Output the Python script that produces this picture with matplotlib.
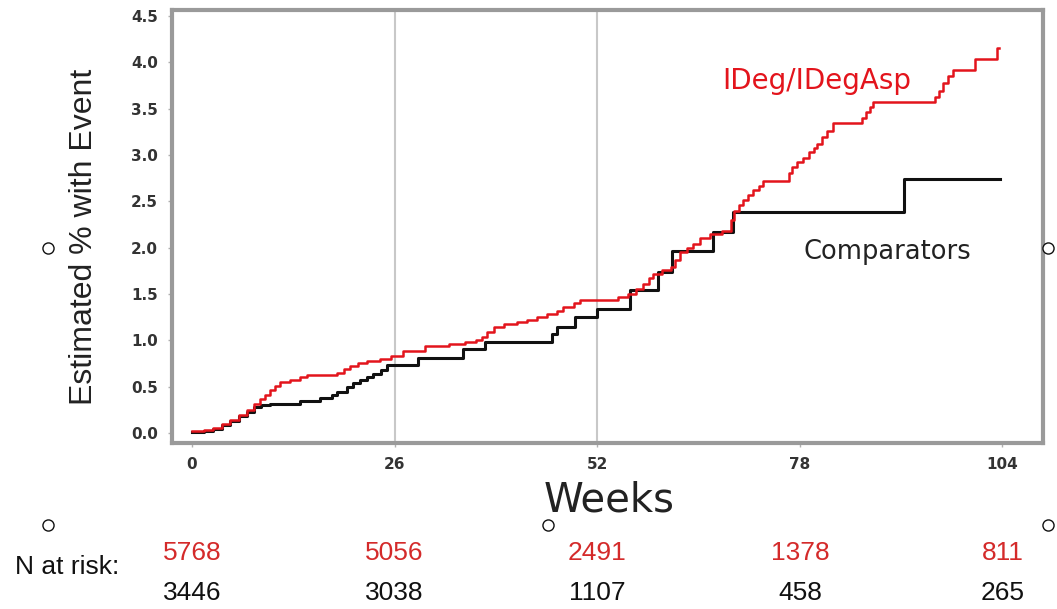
import matplotlib
matplotlib.use("Agg")
import matplotlib.pyplot as plt
import matplotlib.transforms as mtransforms
from matplotlib.lines import Line2D

# ---- data -------------------------------------------------------------
# IDeg/IDegAsp (red) cumulative %, step changes at these weeks
ideg_weeks = [0.0, 1.5, 2.7, 3.8, 4.9, 6.0, 7.0, 8.0, 8.7, 9.4,
              10.0, 10.7, 11.3, 12.6, 13.8, 14.7, 18.6, 19.5, 20.3, 21.3,
              22.4, 24.1, 25.5, 27.1, 29.9, 33.0, 35.0, 36.5, 37.2, 37.8,
              38.7, 40.0, 41.7, 43.0, 44.3, 45.5, 46.8, 47.6, 49.0, 49.8,
              54.7, 56.0, 57.0, 57.9, 58.6, 59.2, 60.3, 61.4, 62.0, 62.6,
              63.5, 64.3, 65.2, 66.5, 68.0, 69.2, 69.5, 70.2, 70.7, 71.4,
              72.0, 72.7, 73.3, 76.6, 77.0, 77.6, 78.4, 79.2, 79.8, 80.2,
              80.9, 81.5, 82.2, 86.0, 86.5, 87.0, 87.4, 95.4, 95.8, 96.4,
              97.0, 97.6, 100.5, 103.3]
ideg_pct = [0.02, 0.03, 0.05, 0.09, 0.14, 0.19, 0.25, 0.31, 0.36, 0.41,
            0.46, 0.51, 0.55, 0.57, 0.60, 0.62, 0.65, 0.69, 0.72, 0.75,
            0.77, 0.80, 0.83, 0.88, 0.94, 0.96, 0.98, 1.00, 1.03, 1.09,
            1.14, 1.17, 1.20, 1.22, 1.25, 1.28, 1.31, 1.36, 1.40, 1.43,
            1.47, 1.50, 1.55, 1.61, 1.67, 1.72, 1.76, 1.79, 1.87, 1.95,
            2.00, 2.04, 2.10, 2.15, 2.18, 2.30, 2.40, 2.46, 2.51, 2.57,
            2.62, 2.67, 2.72, 2.80, 2.87, 2.92, 2.97, 3.03, 3.07, 3.12,
            3.19, 3.26, 3.34, 3.40, 3.46, 3.52, 3.57, 3.63, 3.69, 3.78,
            3.85, 3.92, 4.04, 4.16]
ideg_end = 103.6

# Comparators (black)
comp_weeks = [0.0, 1.5, 2.7, 3.8, 4.9, 6.0, 7.0, 8.0, 8.8, 10.0,
              13.9, 16.4, 18.0, 18.6, 19.9, 20.7, 21.6, 22.4, 23.2, 24.2,
              25.0, 29.0, 34.8, 37.6, 46.2, 46.8, 49.2, 52.0, 56.2, 59.8,
              61.6, 66.8, 69.4, 91.4]
comp_pct = [0.01, 0.02, 0.04, 0.08, 0.13, 0.18, 0.23, 0.28, 0.30, 0.31,
            0.34, 0.38, 0.41, 0.44, 0.50, 0.54, 0.57, 0.60, 0.63, 0.68,
            0.73, 0.81, 0.90, 0.98, 1.07, 1.14, 1.25, 1.34, 1.54, 1.74,
            1.96, 2.17, 2.38, 2.74]
comp_end = 103.7

x_ticks = [0, 26, 52, 78, 104]
y_ticks = [0.0, 0.5, 1.0, 1.5, 2.0, 2.5, 3.0, 3.5, 4.0, 4.5]
grid_weeks = [26, 52]

risk_ideg = ["5768", "5056", "2491", "1378", "811"]
risk_comp = ["3446", "3038", "1107", "458", "265"]

RED = "#e3141c"
BLACK = "#111111"
FRAME = "#9a9a9a"

W, H = 1057, 609
fig = plt.figure(figsize=(W / 100, H / 100), dpi=100)
ax = fig.add_axes([172 / W, 1 - 443 / H, (1043 - 172) / W, (443 - 10) / H])

ax.set_xlim(-2.57, 109.2)
ax.set_ylim(-0.11, 4.565)

for g in grid_weeks:
    ax.axvline(g, color="#c8c8c8", lw=1.5, zorder=1)

ax.step(comp_weeks + [comp_end], comp_pct + [comp_pct[-1]], where="post",
        color=BLACK, lw=2.2, zorder=3)
ax.step(ideg_weeks + [ideg_end], ideg_pct + [ideg_pct[-1]], where="post",
        color=RED, lw=1.8, zorder=4)

for sp in ax.spines.values():
    sp.set_color(FRAME)
    sp.set_linewidth(3)

ax.set_xticks(x_ticks)
ax.set_yticks(y_ticks)
ax.set_yticklabels([f"{v:.1f}" for v in y_ticks])
ax.tick_params(axis="both", length=3, color="#b0b0b0", width=1,
               labelcolor="#333333", labelsize=11)
ax.tick_params(axis="x", pad=7)
ax.tick_params(axis="y", pad=7)
for lab in ax.get_xticklabels() + ax.get_yticklabels():
    lab.set_fontweight("bold")

ax.text(0.632, 0.835, "IDeg/IDegAsp", transform=ax.transAxes, color=RED,
        fontsize=20, ha="left", va="center")
ax.text(0.725, 0.44, "Comparators", transform=ax.transAxes, color="#222222",
        fontsize=18.5, ha="left", va="center")

fig.text(84 / W, 1 - 237 / H, "Estimated % with Event", rotation=90,
         ha="center", va="center", fontsize=23, color="#222222",
         family=["Liberation Sans", "DejaVu Sans"])
fig.text(609 / W, 1 - 500 / H, "Weeks", ha="center", va="center",
         fontsize=29, color="#222222")

# number at risk table under the axis, aligned to week ticks
risk_font = ["Liberation Sans", "DejaVu Sans"]
trans = mtransforms.blended_transform_factory(ax.transData, fig.transFigure)
fig.text(67 / W, 1 - 567 / H, "N at risk:", ha="center", va="center",
         fontsize=19, color=BLACK, family=risk_font)
for wk, a, b in zip(x_ticks, risk_ideg, risk_comp):
    ax.text(wk, 1 - 553 / H, a, transform=trans, ha="center", va="center",
            fontsize=19, color="#d42a2a", family=risk_font, clip_on=False)
    ax.text(wk, 1 - 593 / H, b, transform=trans, ha="center", va="center",
            fontsize=19, color=BLACK, family=risk_font, clip_on=False)

# small hollow selection handles seen in the reference
for px, py in [(48, 248), (1048, 248), (48, 525), (548, 525), (1048, 525)]:
    fig.add_artist(Line2D([px / W], [1 - py / H], marker="o", ms=8,
                          mfc="white", mec=BLACK, mew=1,
                          transform=fig.transFigure))

fig.savefig("out.png", dpi=100)
